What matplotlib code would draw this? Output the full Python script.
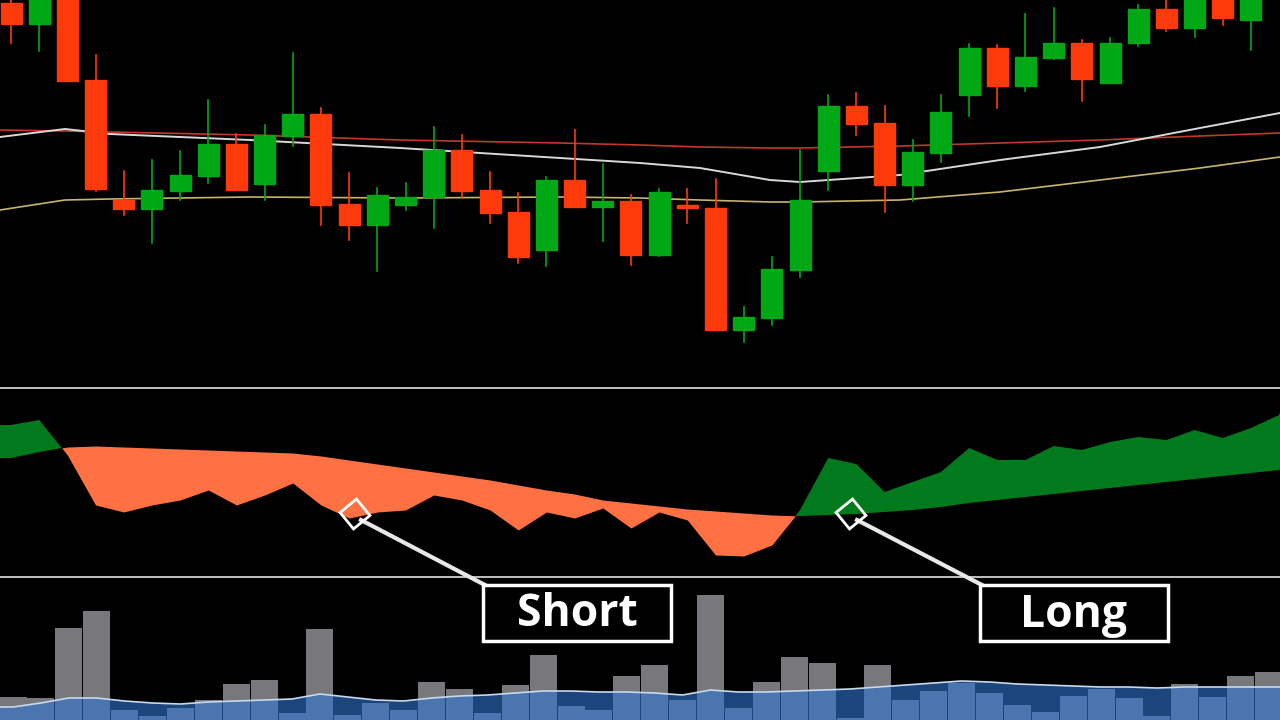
import numpy as np
import matplotlib
matplotlib.use("Agg")
import matplotlib.pyplot as plt
from matplotlib.patches import Rectangle, RegularPolygon

# candle levels (screen-price units, larger = lower on chart)
body_top = [3, -5, -5, 80, 200, 190, 175, 144, 144, 135, 114, 114, 204, 195, 197, 150, 150,
            190, 212, 180, 180, 201, 201, 192, 205, 208, 317, 269, 200, 106, 106, 123, 152,
            112, 48, 48, 57, 43, 43, 43, 9, 9, -5, -5, -5]
body_bot = [24, 24, 81, 189, 209, 209, 191, 176, 190, 184, 136, 205, 225, 225, 205, 197, 191,
            213, 257, 250, 207, 207, 255, 255, 208, 330, 330, 318, 270, 171, 124, 185, 185,
            153, 95, 86, 86, 58, 79, 83, 43, 28, 28, 18, 20]
wick_hi = [-5, -5, -5, 55, 171, 160, 151, 100, 134, 125, 53, 108, 173, 188, 183, 127, 135,
           172, 193, 177, 130, 164, 195, 189, 189, 179, 307, 257, 150, 95, 93, 106, 140,
           95, 44, 45, 14, 8, 40, 38, 5, 0, -5, -5, -5]
wick_lo = [43, 51, 81, 191, 215, 243, 200, 183, 190, 200, 146, 225, 240, 271, 210, 228, 197,
           223, 263, 266, 207, 241, 265, 256, 223, 330, 342, 325, 277, 190, 135, 212, 201,
           162, 116, 108, 91, 59, 101, 83, 46, 31, 37, 25, 50]
bullish = "RGRRRGGGRGGRRGGGRRRGRGRGRRGGGGRRGGGRGGRGGRGRG"

ma_x = [0, 65, 110, 250, 400, 560, 640, 700, 770, 800, 900, 1000, 1100, 1200, 1280]
ma_red = [130, 131, 132, 135, 140, 143, 145, 147, 148, 148, 146, 143, 140, 136, 133]
ma_white = [137, 129, 134, 140, 148, 158, 163, 168, 180, 182, 175, 160, 147, 128, 113]
ma_yellow = [210, 200, 199, 197, 198, 197, 198, 200, 202, 202, 200, 192, 180, 168, 157]

# oscillator: fast (jagged) and slow (smooth) lines
osc_fast = [425, 420, 455, 505, 512, 505, 500, 490, 505, 495, 483, 505, 518, 512, 510, 495,
            500, 510, 530, 512, 518, 508, 528, 512, 520, 555, 556, 545, 510, 458, 464, 492,
            482, 472, 448, 460, 460, 446, 450, 442, 437, 440, 430, 438, 428, 415]
osc_slow = [458, 452, 447, 446, 447, 448, 449, 450, 451, 452, 453, 456, 460, 464, 468, 472,
            476, 480, 485, 490, 494, 500, 503, 506, 509, 511, 513, 515, 516, 515, 514, 512,
            510, 507, 503, 500, 497, 494, 491, 488, 485, 482, 479, 476, 473, 470]

volume = [23, 22, 92, 109, 10, 4, 12, 20, 36, 40, 7, 91, 5, 17, 10, 38, 31, 7, 35, 65, 14, 10,
          44, 55, 20, 125, 12, 38, 63, 57, 2, 55, 20, 29, 37, 27, 15, 8, 24, 31, 22, 4, 36, 23,
          44, 48]
vol_ma = [13, 17, 22, 22, 19, 17, 16, 18, 19, 20, 21, 26, 23, 20, 19, 22, 24, 25, 27, 29, 29,
          28, 28, 27, 25, 30, 28, 28, 29, 30, 31, 33, 35, 37, 39, 38, 36, 35, 34, 33, 33, 32,
          33, 33, 33, 33]

STEP = 28.18
def xpos(i):
    return 11 + STEP * np.asarray(i)

fig = plt.figure(figsize=(12.8, 7.2), dpi=100, facecolor="black")
ax = fig.add_axes([0, 0, 1, 1])
ax.set_facecolor("black")
ax.set_xlim(0, 1280)
ax.set_ylim(720, 0)
ax.axis("off")

# moving averages
ax.plot(ma_x, ma_red, color="#c0392b", lw=1.2)
ax.plot(ma_x, ma_white, color="#d8d8d8", lw=1.4)
ax.plot(ma_x, ma_yellow, color="#c9b46a", lw=1.2)

# candles
for i, c in enumerate(bullish):
    col = "#00a815" if c == "G" else "#ff3a0a"
    x = xpos(i)
    ax.plot([x, x], [wick_hi[i], wick_lo[i]], color=col, lw=1.2, zorder=3)
    ax.add_patch(Rectangle((x - 10.5, body_top[i]), 21, max(body_bot[i] - body_top[i], 2),
                           color=col, zorder=4))

# separators
ax.axhline(388, color="#e0e0e0", lw=1.2)
ax.axhline(577, color="#e0e0e0", lw=1.2)

# oscillator
ox = xpos(np.arange(len(osc_fast)))
ox = np.concatenate([[0], ox, [1280]])
f = np.array([osc_fast[0]] + osc_fast + [412], float)
s = np.array([osc_slow[0]] + osc_slow + [469], float)
ax.fill_between(ox, f, s, where=f <= s, interpolate=True, color="#007a1c", lw=0)
ax.fill_between(ox, f, s, where=f > s, interpolate=True, color="#ff7043", lw=0)

# volume
vx = 13 + 27.9 * np.arange(len(volume))
ma_line = 720 - np.array([vol_ma[0]] + vol_ma + [vol_ma[-1]])
mx_line = np.concatenate([[0], vx, [1280]])
ax.bar(vx, volume, width=27, bottom=720 - np.array(volume), color="#77777c", align="center")
ax.fill_between(mx_line, ma_line, 720, color="#2f74d0", alpha=0.6, lw=0)
ax.plot(mx_line, ma_line, color="#c8d8ee", lw=1.2)

# annotations
for mx, label, bx in [(355, "Short", 483), (851, "Long", 980)]:
    ax.plot([mx + 6, bx + 2], [520, 585], color="#e8e8e8", lw=3, zorder=5)
    ax.add_patch(RegularPolygon((mx, 514), 4, radius=15, orientation=0.1,
                                facecolor="none", edgecolor="white", lw=2, zorder=6))
    ax.add_patch(Rectangle((bx, 585), 188, 56, facecolor="black", edgecolor="white",
                           lw=2.5, zorder=6))
    ax.text(bx + 94, 615, label, color="white", fontsize=32, fontweight="bold",
            family="Open Sans", ha="center", va="center", zorder=7)

fig.savefig("out.png", dpi=100, facecolor="black")
